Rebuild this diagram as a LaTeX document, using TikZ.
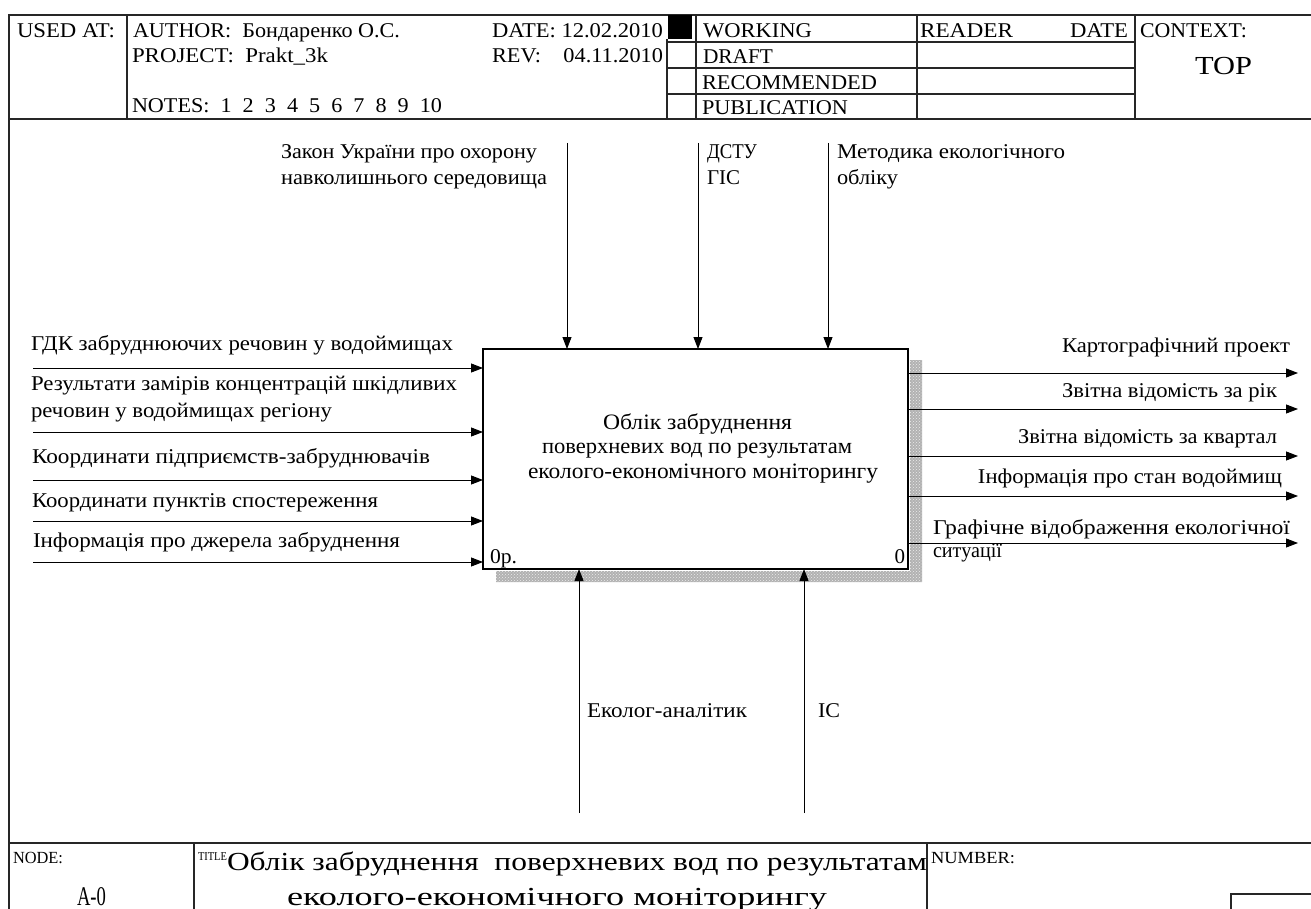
\documentclass[tikz,border=0pt]{standalone}
\usepackage{fontspec}
\setmainfont{Liberation Serif}
\usetikzlibrary{arrows.meta,patterns}
\newcommand\fw[2]{\resizebox{#1pt}{\height}{#2}}
\begin{document}
\begin{tikzpicture}[x=1pt,y=-1pt,
  every node/.style={inner sep=0pt,outer sep=0pt,font=\fontsize{21}{24}\selectfont},
  frame/.style={line width=1.3pt,draw=black!85},
  arr/.style={line width=0.9pt,-{Triangle[length=12pt,width=9pt]}},
  lbl/.style={anchor=base west},
  rlbl/.style={anchor=base east},
  shadowfill/.style={pattern=crosshatch dots,pattern color=white!85!gray}]
\useasboundingbox (0,0) rectangle (1311,909);
% ---------- frame ----------
\draw[frame] (1311,15) -- (9,15) -- (9,909);
\draw[frame] (9,119) -- (1311,119);
\draw[frame] (9,843) -- (1311,843);
% header dividers
\draw[frame] (127,15) -- (127,119);
\draw[frame] (667,39) -- (667,119);
\fill (668,15) rectangle (692,39);
\draw[frame] (696,15) -- (696,119);
\draw[frame] (917,15) -- (917,119);
\draw[frame] (1135,15) -- (1135,119);
\draw[frame] (667,42) -- (1135,42);
\draw[frame] (667,68) -- (1135,68);
\draw[frame] (667,94) -- (1135,94);
% footer dividers
\draw[frame] (194,843) -- (194,909);
\draw[frame] (927,843) -- (927,909);
\draw[frame] (1231,909) -- (1231,894) -- (1311,894);
% ---------- header texts ----------
\node[lbl] (usedat) at (17,38) {\fw{98}{USED AT:}};
\node[lbl] (author) at (133,38) {\fw{267}{AUTHOR:\ \ Бондаренко О.С.}};
\node[lbl] (project) at (132,63) {\fw{196}{PROJECT:\ \ Prakt\_3k}};
\node[lbl] (notes) at (132,113) {\fw{310}{NOTES:\ \ 1\ \ 2\ \ 3\ \ 4\ \ 5\ \ 6\ \ 7\ \ 8\ \ 9\ \ 10}};
\node[lbl] (date) at (492,38) {\fw{171}{DATE: 12.02.2010}};
\node[lbl] (rev) at (492,63) {\fw{171}{REV:\ \ \ \ 04.11.2010}};
\node[lbl] (working) at (703,38) {\fw{109}{WORKING}};
\node[lbl] (draft) at (703,64) {\fw{70}{DRAFT}};
\node[lbl] (recom) at (702,90) {\fw{175}{RECOMMENDED}};
\node[lbl] (publ) at (702,115) {\fw{146}{PUBLICATION}};
\node[lbl] (reader) at (920,38) {\fw{93}{READER}};
\node[lbl] (rdate) at (1070,38) {\fw{58}{DATE}};
\node[lbl] (context) at (1140,38) {\fw{107}{CONTEXT:}};
\node[lbl,font=\fontsize{26}{30}\selectfont] (top) at (1195,75) {\fw{57}{TOP}};
% ---------- footer texts ----------
\node[lbl,font=\fontsize{17}{20}\selectfont] (nodelbl) at (13,863) {\fw{50}{NODE:}};
\node[lbl,font=\fontsize{27}{30}\selectfont] (nodenum) at (77,905) {\fw{29}{A-0}};
\node[lbl,font=\fontsize{12}{14}\selectfont] (titlelbl) at (198,860) {\fw{29}{TITLE}};
\node[lbl,font=\fontsize{26}{30}\selectfont] (title1) at (227,870) {\fw{700}{Облік забруднення\ \ поверхневих вод по результатам}};
\node[lbl,font=\fontsize{26}{30}\selectfont] (title2) at (287,905) {\fw{540}{еколого-економічного моніторингу}};
\node[lbl,font=\fontsize{17}{20}\selectfont] (numlbl) at (931,863) {\fw{84}{NUMBER:}};
% ---------- activity box ----------
\fill[gray!60] (910,360) rectangle (922,582) (496,571) rectangle (922,582);
\fill[shadowfill] (910,360) rectangle (922,582) (496,571) rectangle (922,582);
\node[draw,line width=1.8pt,fill=white,minimum width=425pt,minimum height=220pt,anchor=north west] (A0) at (483,349) {};
\node[lbl,font=\fontsize{22}{24}\selectfont] (bt1) at (603,429) {\fw{189}{Облік забруднення}};
\node[lbl,font=\fontsize{22}{24}\selectfont] (bt2) at (542,453) {\fw{310}{поверхневих вод по результатам}};
\node[lbl,font=\fontsize{22}{24}\selectfont] (bt3) at (528,478) {\fw{350}{еколого-економічного моніторингу}};
\node[lbl] (bnum) at (490,563) {\fw{27}{0р.}};
\node[rlbl] (bnum2) at (905,563) {0};
% ---------- controls ----------
\coordinate (c1) at (567,143);
\coordinate (c2) at (698,143);
\coordinate (c3) at (828,143);
\draw[arr] (c1) -- (c1 |- A0.north);
\draw[arr] (c2) -- (c2 |- A0.north);
\draw[arr] (c3) -- (c3 |- A0.north);
\node[lbl] (ct1a) at (281,159) {\fw{256}{Закон України про охорону}};
\node[lbl] (ct1b) at (281,185) {\fw{266}{навколишнього середовища}};
\node[lbl] (ct2a) at (707,159) {\fw{50}{ДСТУ}};
\node[lbl] (ct2b) at (707,185) {\fw{33}{ГІС}};
\node[lbl] (ct3a) at (837,159) {\fw{228}{Методика екологічного}};
\node[lbl] (ct3b) at (837,185) {\fw{61}{обліку}};
% ---------- mechanisms ----------
\coordinate (m1) at (579,813);
\coordinate (m2) at (804,813);
\draw[arr] (m1) -- (m1 |- A0.south);
\draw[arr] (m2) -- (m2 |- A0.south);
\node[lbl] (mt1) at (587,717) {\fw{160}{Еколог-аналітик}};
\node[lbl] (mt2) at (818,717) {\fw{22}{ІС}};
% ---------- inputs ----------
\coordinate (i1) at (33,368);
\coordinate (i2) at (33,432);
\coordinate (i3) at (33,480);
\coordinate (i4) at (33,521);
\coordinate (i5) at (33,562);
\foreach \i in {1,...,5} \draw[arr] (i\i) -- (i\i -| A0.west);
\node[lbl] (it1) at (31,350) {\fw{422}{ГДК забруднюючих речовин у водоймищах}};
\node[lbl] (it2a) at (31,390) {\fw{426}{Результати замірів концентрацій шкідливих}};
\node[lbl] (it2b) at (31,417) {\fw{301}{речовин у водоймищах регіону}};
\node[lbl] (it3) at (32,463) {\fw{398}{Координати підприємств-забруднювачів}};
\node[lbl] (it4) at (32,507) {\fw{346}{Координати пунктів спостереження}};
\node[lbl] (it5) at (33,547) {\fw{367}{Інформація про джерела забруднення}};
% ---------- outputs ----------
\coordinate (o1) at (1298,373);
\coordinate (o2) at (1298,409);
\coordinate (o3) at (1298,456);
\coordinate (o4) at (1298,496);
\coordinate (o5) at (1298,543);
\foreach \i in {1,...,5} \draw[arr] (o\i -| A0.east) -- (o\i);
\node[rlbl] (ot1) at (1290,352) {\fw{228}{Картографічний проект}};
\node[rlbl] (ot2) at (1277,397) {\fw{215}{Звітна відомість за рік}};
\node[rlbl] (ot3) at (1277,443) {\fw{259}{Звітна відомість за квартал}};
\node[rlbl] (ot4) at (1282,483) {\fw{304}{Інформація про стан водоймищ}};
\node[lbl] (ot5a) at (933,534) {\fw{357}{Графічне відображення екологічної}};
\node[lbl] (ot5b) at (933,557) {\fw{69}{ситуації}};
\end{tikzpicture}
\end{document}
